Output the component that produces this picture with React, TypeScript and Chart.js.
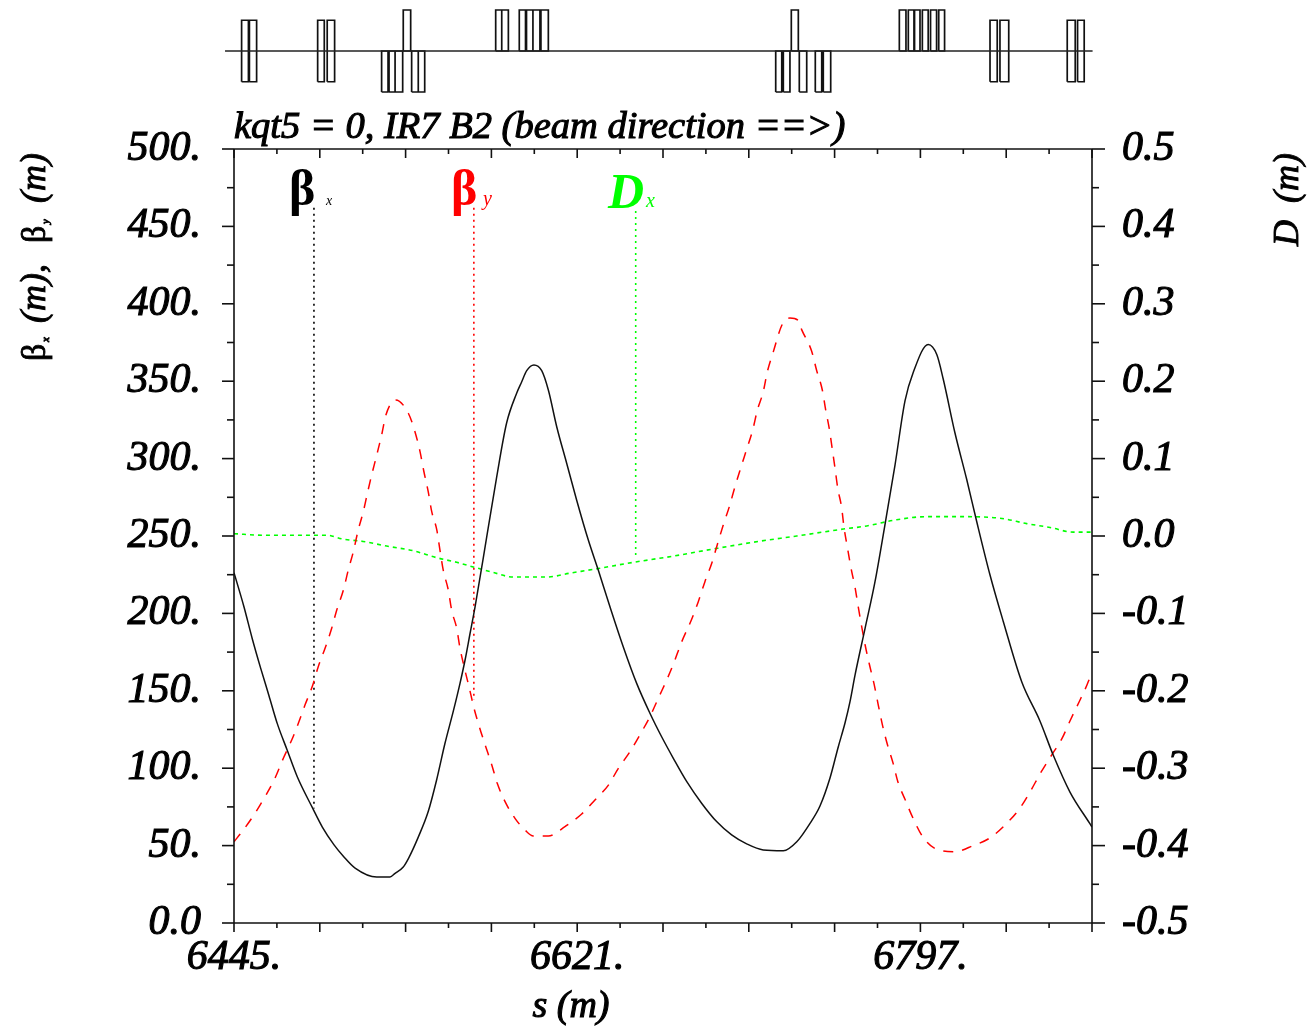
import React, { useEffect, useRef } from "react";
import { Chart, registerables } from "chart.js";

Chart.register(...registerables);

const betaXS = [6445,6450.1,6454.4,6458.7,6462.9,6467.2,6472.3,6477.5,6485.2,6490.3,6496.3,6501.4,6507.1,6518.2,6525,6527.6,6531.8,6534.5,6539.5,6544.6,6548.9,6553.2,6557.5,6560.9,6563.5,6566,6568.6,6574.6,6579.7,6584.8,6590,6592.5,6595.1,6598.8,6602.8,6606.2,6610.5,6615.6,6620.7,6626.7,6631.8,6637.8,6644.6,6651.5,6658.3,6664.3,6670.3,6677.2,6684.8,6692.5,6700.2,6707.9,6716.4,6726.7,6733.6,6740.4,6745.5,6750.6,6754.9,6758.3,6760.9,6763.5,6768.6,6773.7,6778.8,6784,6789.1,6793.4,6801,6805.4,6808.7,6814.7,6820.7,6825.9,6832.7,6839.5,6849,6858.3,6865.1,6873.7,6884,6885];
const betaX = [226.3,204.3,183.5,164.5,147,128.8,111.6,94.3,74.5,62,50.5,42.7,35.5,29.7,29.7,32.1,36.2,41.8,55.5,72,92.4,116.1,137,154.8,169.9,186.7,204.1,249.4,288.1,323,342.4,349.5,356.8,360.5,356.8,344.3,320.6,297,273.3,247.4,228,204.3,178.5,154.8,135.5,120.3,106.4,91.3,77.4,65.5,56.9,51.1,47.2,46.7,52.5,64.4,75.6,93.5,113.9,129,143,160.3,190.2,220.3,257.1,296,337.3,355.9,373.7,367.2,351.4,316.7,286.8,259.2,224.8,194.8,155.7,130.5,108.5,84.6,64,62];

const betaYS = [6445,6449.8,6455.8,6460.9,6466,6470.3,6474.6,6478,6481.4,6485.4,6488.2,6491.7,6495.1,6497.7,6501.1,6503.6,6506.2,6508.7,6511.3,6513.4,6515.6,6518.2,6520.7,6522.9,6527.9,6534.4,6537.8,6540.4,6542.4,6544.6,6546.4,6549,6550.6,6552.3,6554.9,6556.6,6559.2,6560.9,6563,6565.7,6568.1,6570.8,6574.1,6577.2,6580,6584,6589.1,6594.2,6598.5,6606.2,6614.7,6623.3,6630.1,6637,6642.1,6648.1,6653.6,6658.3,6662.6,6666.9,6670.6,6674.6,6679.7,6683.1,6686.5,6690,6692.8,6695.9,6699,6701.9,6704.8,6707.9,6711,6713.4,6716.4,6718.5,6721.6,6726,6730.1,6734.2,6736.1,6741.2,6743.8,6746.7,6748.4,6750.3,6751.8,6753.2,6754.6,6756.6,6757.8,6759.5,6761.4,6763.5,6765,6766.9,6768.6,6770.8,6773.2,6775.4,6777.7,6780,6783.1,6785.4,6789.1,6793.4,6798.2,6804.5,6814.7,6824.1,6832.7,6841.2,6848.1,6853.2,6858.7,6864.3,6869.5,6873.7,6878.5,6882.3,6884.4,6885];
const betaY = [52.5,60.1,70.9,81.6,93.5,106.4,118.2,129,140.8,153.7,165.6,177.5,190.4,202.2,215.1,228,239.9,253.9,265.7,277.6,289.4,302.3,315.2,328.2,337.9,329.3,317.4,304.5,291.5,278.6,265.7,253.9,241,228,215.1,202.2,190.4,177.5,165.6,151.6,138.7,126.8,113.9,102.1,90.2,78.4,67.6,60.1,56.2,56.2,62.2,70.4,79.5,89.1,99.9,110.7,122.5,133.3,145.2,157,168.2,181.7,196.2,207.6,220.5,232.4,244.2,257.1,268.9,281.8,293.7,306,318.5,331.4,343.2,356.1,369.1,386.3,390.8,389.5,383.3,369.5,356.9,344.3,331.6,319.1,306.2,293.9,281,268.4,255.8,243.1,229.4,216.7,205.2,191.4,179.9,167.3,154.6,140.8,127,115.6,102.8,91.4,79.9,67.2,55.7,48.1,46.1,50,55,64.3,74.3,84.6,97.1,108.5,118.9,130.5,143.1,153.4,159.9,161];

const dispS = [6445,6459.9,6492.5,6500.9,6511.2,6523.3,6536.8,6548.9,6559.2,6567.7,6577.8,6588.1,6595.8,6605.4,6617.3,6631.8,6649.8,6670.3,6692.5,6713.9,6733.6,6757.5,6769.5,6784.8,6800.2,6817.3,6837.8,6851.5,6863.5,6875.4,6885];
const dispX = [0.003,0.001,0.001,-0.004,-0.007,-0.013,-0.019,-0.028,-0.034,-0.04,-0.047,-0.053,-0.053,-0.053,-0.048,-0.042,-0.034,-0.026,-0.016,-0.007,0,0.009,0.013,0.021,0.025,0.025,0.023,0.016,0.011,0.005,0.005];

// label pointers: [s, top value, bottom value]
const pointerBetaX = [6486, 462, 74];
const pointerBetaY = [6568, 462, 144];
const pointerDisp = [6651, 0.42, -0.029];

// lattice elements: start s, end s, kind
const elementStart = [6448.9,6452.9,6487.9,6492.8,6520.7,6524.5,6527.6,6531.8,6536.1,6539.5,6579.2,6582.3,6591.3,6595,6598.3,6602.4,6722.8,6726.7,6730.8,6734.9,6743.1,6747.2,6786.2,6790.8,6794,6798,6802.2,6806.4,6832.7,6837.8,6872.3,6877.6];
const elementEnd = [6452.4,6456.6,6491.3,6496.6,6524,6527.6,6531.5,6535.6,6539.5,6542.8,6582.3,6585.7,6594.5,6598.3,6601.9,6606.2,6725.9,6730.1,6734.4,6738.7,6746.4,6751,6789.6,6793.7,6796.8,6801,6805.3,6809.4,6836.4,6842.3,6876.4,6881];
const elementKind = ["c","c","c","c","d","d","d","u","d","d","u","u","u","u","u","u","d","d","u","d","d","d","u","u","u","u","u","u","c","c","c","c"];
const beamlineS = [6440.4, 6885.3];

const xRange = [6445, 6885];
const xMajor = [6445,6489,6533,6577,6621,6665,6709,6753,6797,6841,6885];
const xMinor = [6467,6511,6555,6599,6643,6687,6731,6775,6819,6863];
const xLabelled = [6445,6621,6797];
const betaMajor = [0,50,100,150,200,250,300,350,400,450,500];
const betaMinor = [25,75,125,175,225,275,325,375,425,475];
const dMajor = [-0.5,-0.4,-0.3,-0.2,-0.1,0,0.1,0.2,0.3,0.4,0.5];
const dMinor = [-0.45,-0.35,-0.25,-0.15,-0.05,0.05,0.15,0.25,0.35,0.45];

const SERIF = '"Liberation Serif"';
const TICK_FONT = { family: SERIF, style: "italic" as const, weight: "normal" as const, size: 42 };
const STROKE = 1.1;

function zip(xs: number[], ys: number[]) {
  return xs.map((x, i) => ({ x, y: ys[i] }));
}

function latticePath() {
  const pts: { x: number; y: number | null }[] = [];
  const levels: Record<string, [number, number]> = { c: [-0.75, 0.75], u: [0, 1], d: [-1, 0] };
  elementStart.forEach((s0, i) => {
    const s1 = elementEnd[i];
    const [lo, hi] = levels[elementKind[i]];
    pts.push({ x: s0, y: lo }, { x: s0, y: hi }, { x: s1, y: hi }, { x: s1, y: lo }, { x: s0, y: lo }, { x: s1, y: null });
  });
  return pts;
}

function heavyText(ctx: CanvasRenderingContext2D, text: string, x: number, y: number, font: string, stroke = STROKE) {
  ctx.font = font;
  ctx.lineWidth = stroke;
  ctx.strokeStyle = ctx.fillStyle as string;
  ctx.fillText(text, x, y);
  ctx.strokeText(text, x, y);
}

function rotatedText(ctx: CanvasRenderingContext2D, text: string, x: number, y: number, font: string) {
  ctx.save();
  ctx.translate(x, y);
  ctx.rotate(-Math.PI / 2);
  ctx.textAlign = "left";
  ctx.textBaseline = "alphabetic";
  heavyText(ctx, text, 0, 0, font, 0.9);
  ctx.restore();
}

const framePlugin = {
  id: "frame",
  afterDatasetsDraw(chart: any) {
    const { ctx, chartArea: a, scales } = chart;
    const { x, y, yD } = scales;
    ctx.save();
    ctx.strokeStyle = "#111";
    ctx.lineWidth = 1.6;
    const seg = (x0: number, y0: number, x1: number, y1: number) => {
      ctx.beginPath();
      ctx.moveTo(x0, y0);
      ctx.lineTo(x1, y1);
      ctx.stroke();
    };
    seg(a.left, a.top, a.right, a.top);
    seg(a.left, a.bottom, a.right, a.bottom);
    seg(a.left, a.top, a.left, a.bottom);
    seg(a.right, a.top, a.right, a.bottom);
    xMajor.forEach((v) => {
      const p = x.getPixelForValue(v);
      seg(p, a.bottom, p, a.bottom + 9);
      seg(p, a.top, p, a.top + 9);
    });
    xMinor.forEach((v) => {
      const p = x.getPixelForValue(v);
      seg(p, a.bottom, p, a.bottom + 5);
      seg(p, a.top, p, a.top + 5);
    });
    betaMajor.forEach((v) => { const p = y.getPixelForValue(v); seg(a.left, p, a.left - 12, p); });
    betaMinor.forEach((v) => { const p = y.getPixelForValue(v); seg(a.left, p, a.left - 7, p); });
    dMajor.forEach((v) => { const p = yD.getPixelForValue(v); seg(a.right, p, a.right + 13, p); });
    dMinor.forEach((v) => { const p = yD.getPixelForValue(v); seg(a.right, p, a.right + 7, p); });

    ctx.textBaseline = "alphabetic";
    ctx.textAlign = "left";
    ctx.fillStyle = "#000";
    heavyText(ctx, "kqt5 = 0, IR7 B2 (beam direction ==>)", 234, 138, `italic 38.5px ${SERIF}`);
    ctx.textAlign = "center";
    heavyText(ctx, "s (m)", 571, 1017, `italic 38px ${SERIF}`);
    ctx.textAlign = "left";

    const unit = `italic 36px ${SERIF}`;
    const greek = `34px ${SERIF}`;
    const sub = `italic 11px ${SERIF}`;
    rotatedText(ctx, "\u03b2", 45, 361, greek);
    rotatedText(ctx, "x", 49, 342, sub);
    rotatedText(ctx, "(m),", 45, 323, unit);
    rotatedText(ctx, "\u03b2", 45, 243, greek);
    rotatedText(ctx, "y", 49, 224, sub);
    rotatedText(ctx, "(m)", 45, 203, unit);
    rotatedText(ctx, "D", 1298, 246, unit);
    rotatedText(ctx, "(m)", 1298, 203, unit);

    ctx.fillStyle = "#000";
    ctx.font = `bold 50px ${SERIF}`;
    ctx.fillText("\u03b2", 289, 205);
    ctx.font = `italic 14px ${SERIF}`;
    ctx.fillText("x", 326, 205);
    ctx.fillStyle = "#ff0000";
    ctx.font = `bold 50px ${SERIF}`;
    ctx.fillText("\u03b2", 451, 205);
    ctx.font = `italic 20px ${SERIF}`;
    ctx.fillText("y", 483, 205);
    ctx.fillStyle = "#00ff00";
    ctx.font = `italic bold 50px ${SERIF}`;
    ctx.fillText("D", 608, 208);
    ctx.font = `italic 20px ${SERIF}`;
    ctx.fillText("x", 646, 207);
    ctx.restore();
  },
};

export default function App() {
  const ref = useRef<HTMLCanvasElement | null>(null);
  useEffect(() => {
    if (!ref.current) return;
    const line = { showLine: true, pointRadius: 0, tension: 0, fill: false };
    const curve = { ...line, cubicInterpolationMode: "monotone" };
    const pointerDash = [2, 4];
    const chart = new Chart(ref.current, {
      type: "scatter",
      data: {
        datasets: [
          { ...curve, label: "betaX", data: zip(betaXS, betaX), borderColor: "#111", borderWidth: 1.5, yAxisID: "y" },
          { ...curve, label: "betaY", data: zip(betaYS, betaY), borderColor: "#ff0000", borderWidth: 1.5, borderDash: [10, 9], yAxisID: "y" },
          { ...curve, label: "Dx", data: zip(dispS, dispX), borderColor: "#00ff00", borderWidth: 1.6, borderDash: [4, 4], yAxisID: "yD" },
          { ...line, label: "pointer betaX", data: zip([pointerBetaX[0], pointerBetaX[0]], pointerBetaX.slice(1)), borderColor: "#000", borderWidth: 1.6, borderDash: pointerDash, yAxisID: "y" },
          { ...line, label: "pointer betaY", data: zip([pointerBetaY[0], pointerBetaY[0]], pointerBetaY.slice(1)), borderColor: "#ff0000", borderWidth: 1.6, borderDash: pointerDash, yAxisID: "y" },
          { ...line, label: "pointer Dx", data: zip([pointerDisp[0], pointerDisp[0]], pointerDisp.slice(1)), borderColor: "#00ff00", borderWidth: 1.6, borderDash: pointerDash, yAxisID: "yD" },
          { ...line, label: "beamline", data: zip(beamlineS, [0, 0]), borderColor: "#222", borderWidth: 1.5, yAxisID: "lat", clip: false },
          { ...line, label: "lattice", data: latticePath(), borderColor: "#111", borderWidth: 1.7, yAxisID: "lat", clip: false, spanGaps: false },
        ] as any,
      },
      options: {
        animation: false,
        responsive: false,
        layout: { padding: { top: 149, left: 0, right: 0, bottom: 0 } },
        plugins: { legend: { display: false }, tooltip: { enabled: false }, title: { display: false } },
        scales: {
          x: {
            type: "linear",
            position: "bottom",
            min: xRange[0],
            max: xRange[1],
            grid: { display: false, drawTicks: false },
            border: { display: false },
            afterBuildTicks: (s: any) => { s.ticks = [...xMajor, ...xMinor].sort((a, b) => a - b).map((value) => ({ value })); },
            afterFit: (s: any) => { s.height = 104; },
            ticks: {
              autoSkip: false,
              maxRotation: 0,
              padding: 10,
              color: "#000",
              font: TICK_FONT,
              textStrokeColor: "#000",
              textStrokeWidth: STROKE,
              callback: (v: any) => (xLabelled.includes(v) ? `${v}.` : ""),
            },
          },
          y: {
            type: "linear",
            position: "left",
            min: 0,
            max: 500,
            grid: { display: false, drawTicks: false },
            border: { display: false },
            afterBuildTicks: (s: any) => { s.ticks = [...betaMajor, ...betaMinor].sort((a, b) => a - b).map((value) => ({ value })); },
            afterFit: (s: any) => { s.width = 234; },
            ticks: {
              autoSkip: false,
              padding: 33,
              color: "#000",
              font: TICK_FONT,
              textStrokeColor: "#000",
              textStrokeWidth: STROKE,
              callback: (v: any) => (betaMajor.includes(v) ? (v === 0 ? "0.0" : `${v}.`) : ""),
            },
          },
          yD: {
            type: "linear",
            position: "right",
            min: -0.5,
            max: 0.5,
            grid: { display: false, drawTicks: false },
            border: { display: false },
            afterBuildTicks: (s: any) => { s.ticks = [...dMajor, ...dMinor].sort((a, b) => a - b).map((value) => ({ value })); },
            afterFit: (s: any) => { s.width = 218; },
            ticks: {
              autoSkip: false,
              padding: 30,
              color: "#000",
              font: TICK_FONT,
              textStrokeColor: "#000",
              textStrokeWidth: STROKE,
              callback: (v: any) => (dMajor.includes(v) ? v.toFixed(1) : ""),
            },
          },
          lat: {
            type: "linear",
            display: false,
            min: -21.27,
            max: -2.39,
          },
        },
      } as any,
      plugins: [framePlugin],
    });
    return () => chart.destroy();
  }, []);
  return (
    <canvas
      ref={ref}
      width={1310}
      height={1027}
      style={{ position: "absolute", left: 0, top: 0, width: 1310, height: 1027, display: "block" }}
    />
  );
}
